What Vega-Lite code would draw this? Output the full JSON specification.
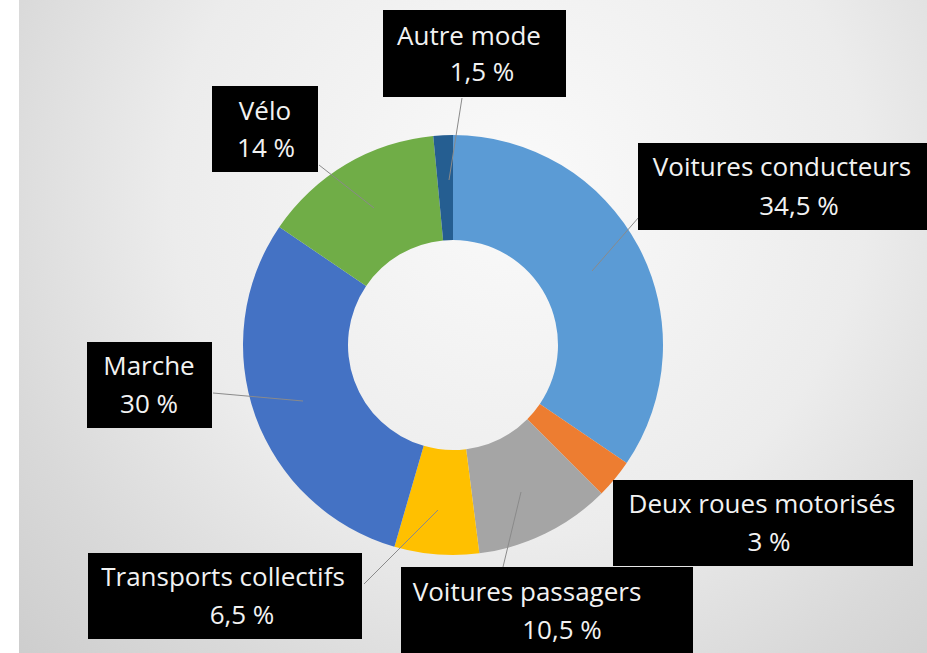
{
  "$schema": "https://vega.github.io/schema/vega-lite/v6.json",
  "width": 927,
  "height": 653,
  "autosize": {"type": "fit", "contains": "padding"},
  "padding": 0,
  "background": "white",
  "view": {"stroke": null},
  "datasets": {
    "modes": [
      {"mode": "Voitures conducteurs", "part": 34.5, "rang": 1},
      {"mode": "Deux roues motorisés", "part": 3, "rang": 2},
      {"mode": "Voitures passagers", "part": 10.5, "rang": 3},
      {"mode": "Transports collectifs", "part": 6.5, "rang": 4},
      {"mode": "Marche", "part": 30, "rang": 5},
      {"mode": "Vélo", "part": 14, "rang": 6},
      {"mode": "Autre mode", "part": 1.5, "rang": 7}
    ],
    "boxes": [
      {"mode": "Autre mode", "x1": 383, "x2": 566, "y1": 10, "y2": 97},
      {"mode": "Vélo", "x1": 212, "x2": 318, "y1": 86, "y2": 172},
      {"mode": "Voitures conducteurs", "x1": 638, "x2": 927, "y1": 143, "y2": 230},
      {"mode": "Deux roues motorisés", "x1": 613, "x2": 913, "y1": 480, "y2": 566},
      {"mode": "Voitures passagers", "x1": 401, "x2": 693, "y1": 567, "y2": 653},
      {"mode": "Transports collectifs", "x1": 88, "x2": 362, "y1": 553, "y2": 639},
      {"mode": "Marche", "x1": 87, "x2": 212, "y1": 342, "y2": 428}
    ],
    "leaders": [
      {"mode": "Autre mode", "x1": 462, "y1": 98, "x2": 449, "y2": 180},
      {"mode": "Vélo", "x1": 319, "y1": 165, "x2": 374, "y2": 208},
      {"mode": "Voitures conducteurs", "x1": 639, "y1": 217, "x2": 592, "y2": 271},
      {"mode": "Marche", "x1": 213, "y1": 393, "x2": 303, "y2": 401},
      {"mode": "Transports collectifs", "x1": 364, "y1": 584, "x2": 438, "y2": 510},
      {"mode": "Voitures passagers", "x1": 503, "y1": 567, "x2": 521, "y2": 492}
    ],
    "texts": [
      {"t": "Autre mode", "x": 469, "y": 37},
      {"t": "1,5 %", "x": 482, "y": 73},
      {"t": "Vélo", "x": 265, "y": 112},
      {"t": "14 %", "x": 266, "y": 149},
      {"t": "Voitures conducteurs", "x": 782, "y": 168},
      {"t": "34,5 %", "x": 799, "y": 207},
      {"t": "Deux roues motorisés", "x": 762, "y": 505},
      {"t": "3 %", "x": 769, "y": 543},
      {"t": "Voitures passagers", "x": 527, "y": 593},
      {"t": "10,5 %", "x": 562, "y": 631},
      {"t": "Transports collectifs", "x": 223, "y": 578},
      {"t": "6,5 %", "x": 242, "y": 616},
      {"t": "Marche", "x": 149, "y": 367},
      {"t": "30 %", "x": 149, "y": 405}
    ]
  },
  "layer": [
    {
      "data": {"values": [{"bx1": 19, "bx2": 927, "by1": 0, "by2": 653}]},
      "mark": {
        "type": "rect",
        "fill": {
          "gradient": "radial",
          "x1": 0.55, "y1": 0.35, "r1": 0,
          "x2": 0.55, "y2": 0.35, "r2": 0.85,
          "stops": [
            {"offset": 0, "color": "#fafafa"},
            {"offset": 0.45, "color": "#ececec"},
            {"offset": 0.7, "color": "#d9d9d9"},
            {"offset": 1, "color": "#c6c6c6"}
          ]
        }
      },
      "encoding": {
        "x": {"field": "bx1", "type": "quantitative", "scale": {"domain": [0, 927], "nice": false, "zero": false}, "axis": null},
        "x2": {"field": "bx2"},
        "y": {"field": "by1", "type": "quantitative", "scale": {"domain": [0, 653], "nice": false, "zero": false, "reverse": true}, "axis": null},
        "y2": {"field": "by2"}
      }
    },
    {
      "data": {"name": "modes"},
      "mark": {"type": "arc", "radius": 210, "radius2": 105},
      "encoding": {
        "theta": {"field": "part", "type": "quantitative", "stack": true},
        "order": {"field": "rang", "type": "quantitative"},
        "color": {
          "field": "mode",
          "type": "nominal",
          "scale": {
            "domain": ["Voitures conducteurs", "Deux roues motorisés", "Voitures passagers", "Transports collectifs", "Marche", "Vélo", "Autre mode"],
            "range": ["#5B9BD5", "#ED7D31", "#A5A5A5", "#FFC000", "#4472C4", "#70AD47", "#255E91"]
          },
          "legend": null
        },
        "x": {"datum": 453, "type": "quantitative"},
        "y": {"datum": 345, "type": "quantitative"}
      }
    },
    {
      "data": {"name": "leaders"},
      "mark": {"type": "rule", "color": "#8a8a8a", "strokeWidth": 1},
      "encoding": {
        "x": {"field": "x1", "type": "quantitative"},
        "y": {"field": "y1", "type": "quantitative"},
        "x2": {"field": "x2"},
        "y2": {"field": "y2"}
      }
    },
    {
      "data": {"name": "boxes"},
      "mark": {"type": "rect", "color": "black"},
      "encoding": {
        "x": {"field": "x1", "type": "quantitative"},
        "x2": {"field": "x2"},
        "y": {"field": "y1", "type": "quantitative"},
        "y2": {"field": "y2"}
      }
    },
    {
      "data": {"name": "texts"},
      "mark": {"type": "text", "font": "Open Sans", "fontSize": 26, "color": "#f2f2f2", "align": "center", "baseline": "middle"},
      "encoding": {
        "x": {"field": "x", "type": "quantitative"},
        "y": {"field": "y", "type": "quantitative"},
        "text": {"field": "t"}
      }
    }
  ]
}
